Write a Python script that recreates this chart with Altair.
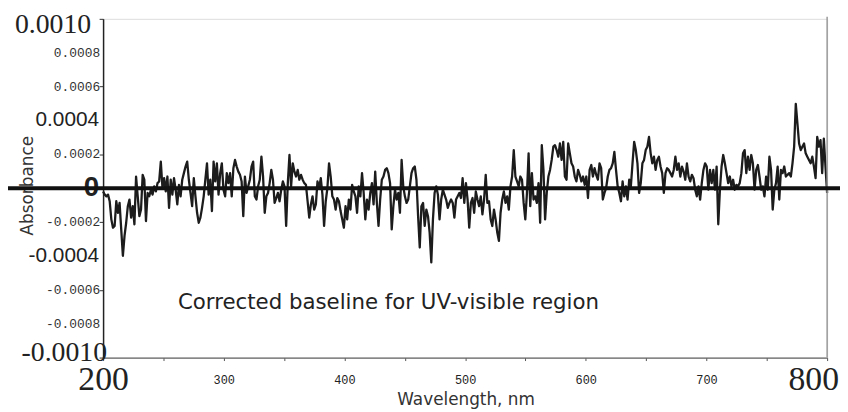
import altair as alt
import numpy as np
import pandas as pd

# Absorbance, in units of 1e-4, left to right (200 -> 800 nm)
abs_e4_200_318 = [
    -0.19, -0.38, -0.48, -0.38, -0.77, -1.84, -2.33, -2.23, -0.77, -1.45,
    -0.87, -2.43, -3.99, -2.82, -2.04, -1.06, -0.67, -1.74, -1.06, -2.13,
    0.69, -0.48, -1.65, -1.26, 0.79, 0.50, -1.94, -0.28, -0.48, -0.09,
    -0.38, 0.11, -0.19, 0.30, 0.40, 1.57, 0.01, 0.59, -0.19, 0.69,
    -1.16, 0.50, -0.38, 0.59, -0.09, -0.96, 0.20, -0.48, 0.50, 0.89,
    1.28, 1.57, 0.50, -0.28, -1.06, 0.59, -0.48, -1.45, -2.04, -1.74,
    -1.16, -0.48, 0.50, 1.47, -0.38, 0.50, -1.35, 1.57, 0.40, 1.47,
    -0.38, 0.89, 1.47, -0.09, -0.48, 0.89, 0.30, 0.89, -0.48, 1.18,
    1.67, 1.28, 0.98, 0.79, 0.40, -1.65, 0.69, -0.28,
]
abs_e4_320_441 = [
    0.11, 0.50, 1.28, 1.57, -0.48, -0.67, 0.11, 0.50, 1.86, 0.69,
    -1.45, -0.48, -0.28, 0.30, 1.08, 0.50, -0.87, -0.58, -0.28, -0.77,
    -0.09, 0.40, 0.11, -2.23, 0.30, 1.96, 0.11, 1.47, 0.98, 0.69,
    1.08, 0.50, 0.79, 0.50, 0.30, 0.20, -0.77, -1.74, -0.96, -0.48,
    -1.26, -0.96, 0.40, 0.01, 0.59, -0.38, -2.23, -0.77, 0.01, 1.47,
    0.69, -0.48, -0.67, -1.26, -0.58, -0.77, -1.35, -1.84, -2.33, -1.06,
    -1.84, -0.67, -1.26, 0.20, -0.19, -0.48, -1.45, 0.11, -0.48, 0.89,
    -0.28, -1.84, -0.67, -1.26, -0.28, 0.30, -0.96, 0.98, -0.87, -2.23,
    -0.67, 0.50, 0.69, 1.08, 1.18, 0.89, 0.30, -2.43, -1.06, -0.09,
]
abs_e4_442_564 = [
    -0.67, -0.28, -1.45, 1.67, 0.11, -0.48, -0.87, -0.67, 0.11, 0.89,
    1.18, 1.28, 0.50, -1.65, -3.50, -1.06, -0.87, -2.23, -1.26, -1.65,
    -2.62, -4.38, -1.84, -0.28, 0.11, -0.38, -1.84, -0.67, -0.09, -0.38,
    -0.67, -1.16, -0.87, -0.67, -0.87, -1.74, -0.67, -0.48, -0.28, -0.58,
    0.59, -0.87, 0.30, -0.67, -2.33, -0.87, -0.58, -1.45, -0.19, -0.67,
    -1.06, -0.48, -1.55, -0.67, 0.79, -0.87, -0.77, -1.84, -2.23, -1.26,
    -1.84, -2.62, -3.11, -1.45, -0.67, -0.19, -0.87, -0.48, -1.26, 0.11,
    0.69, 2.25, 0.69, 0.40, 0.11, 0.69, 0.50, -0.87, -1.84, -0.28,
    2.06, -1.06, 0.89, -0.67, -0.48, -0.87, 0.30, -2.04, 2.54, 1.08,
]
abs_e4_565_687 = [
    -1.84, -0.28, 0.69, 1.08, 1.67, 2.45, 2.54, 2.25, 1.86, 2.64,
    1.67, 2.74, 0.69, 0.50, 2.64, 2.06, 1.47, 1.28, 0.69, 0.40,
    1.08, 0.79, 0.40, 0.69, 0.20, 0.69, -0.58, 1.08, 1.37, 0.69,
    1.18, 0.79, 0.50, 1.47, 1.18, -0.67, -0.28, 0.01, 0.69, 1.08,
    1.18, 1.47, 2.15, 1.08, 0.11, -0.28, -0.77, 0.40, -0.48, 0.11,
    -0.67, 0.50, 0.11, 1.47, 2.74, 2.25, 1.47, -0.28, 0.30, 1.47,
    1.67, 2.25, 2.45, 3.03, 2.06, 1.47, 1.86, 1.08, 1.67, 1.86,
    1.28, 0.89, -0.28, 0.89, 1.18, 1.08, 0.89, 0.69, 1.08, 1.86,
    1.08, 1.47, 0.69, 1.28, 0.98, 0.50, 1.47, 0.69, 0.40, 0.79,
]
abs_e4_688_800 = [
    0.59, -0.09, -0.48, 0.11, -0.67, 0.30, 1.08, 1.47, 1.28, -0.09,
    1.08, 0.30, 1.08, -0.09, 1.28, -2.13, -0.09, 1.28, 1.96, 1.47,
    0.89, 0.30, 0.69, 0.11, 0.50, -0.09, 0.20, 0.11, 0.30, 0.89,
    2.06, 2.25, 0.89, 1.86, 1.08, 1.96, 1.47, -0.09, 1.08, 1.37,
    0.69, -0.09, 0.11, -0.48, 0.69, -0.09, 1.86, 1.08, -1.26, -0.09,
    0.30, 1.28, -0.67, 1.08, 0.89, 1.28, 0.69, 0.79, 0.89, 0.69,
    1.47, 2.45, 4.98, 3.81, 2.64, 2.25, 2.45, 2.64, 2.06, 1.86,
    1.67, 1.47, 1.86, 1.28, 0.59, 3.03, 2.45, 2.84, 0.89, 2.93,
    1.28, -0.28,
]

abs_e4 = (abs_e4_200_318 + abs_e4_320_441 + abs_e4_442_564
          + abs_e4_565_687 + abs_e4_688_800)
wavelength = np.linspace(200, 800, len(abs_e4))

x_ticks = [200, 250, 300, 350, 400, 450, 500, 550, 600, 650, 700, 750, 800]
y_ticks = [-0.0010, -0.0009, -0.0008, -0.0007, -0.0006, -0.0005, -0.0004,
           -0.0003, -0.0002, -0.0001, 0.0, 0.0001, 0.0002, 0.0003, 0.0004,
           0.0005, 0.0006, 0.0007, 0.0008, 0.0009, 0.0010]

# y tick labels, in the type styles the figure uses
y_top_label = ["0.0010"]
y_top_value = [0.0010]
y_bottom_label = ["-0.0010"]
y_bottom_value = [-0.0010]
y_mid_labels = ["0.0004", "-0.0004"]
y_mid_values = [0.0004, -0.0004]
y_zero_label = ["0"]
y_zero_value = [0.0]
y_small_labels = ["0.0008", "0.0006", "0.0002", "-0.0002", "-0.0006", "-0.0008"]
y_small_values = [0.0008, 0.0006, 0.0002, -0.0002, -0.0006, -0.0008]

annotation_text = ["Corrected baseline for UV-visible region"]
annotation_x = [262]
annotation_y = [-0.00068]

df = pd.DataFrame({"wavelength": wavelength,
                   "absorbance": np.array(abs_e4) * 1e-4})
annot = pd.DataFrame({"x": annotation_x, "y": annotation_y, "label": annotation_text})

W, H = 731, 342

xscale = alt.Scale(domain=[200, 800], nice=False, zero=False)
yscale = alt.Scale(domain=[-0.001, 0.001], nice=False, zero=False)

x_axis = alt.Axis(
    values=x_ticks,
    labelExpr="datum.value % 100 == 0 ? '' + datum.value : ''",
    labelFont=alt.expr("(datum.value == 200 || datum.value == 800) ? 'Liberation Serif' : 'Liberation Mono'"),
    labelFontSize=alt.expr("(datum.value == 200 || datum.value == 800) ? 34 : 12"),
    labelOffset=alt.expr("datum.value == 800 ? -14 : 0"),
    labelBaseline="middle",
    labelPadding=19,
    labelColor="#222",
    labelFlush=False,
    labelOverlap=False,
    labelBound=False,
    tickSize=3,
    tickColor="#555",
    domainColor="#666",
    domainWidth=1.2,
    grid=False,
    title="Wavelength, nm",
    titleFont="DejaVu Sans",
    titleFontSize=17,
    titleFontWeight="normal",
    titleColor="#333",
    titleX=366,
    titleY=42,
    titleAlign="center",
    titleBaseline="middle",
)

y_axis = alt.Axis(
    values=y_ticks,
    labels=False,
    tickSize=4,
    tickColor="#333",
    domainColor="#222",
    domainWidth=1.5,
    grid=False,
    title="Absorbance",
    titleFont="DejaVu Sans",
    titleFontSize=17,
    titleFontWeight="normal",
    titleColor="#333",
    titleX=-76,
    titleY=168,
    titleAlign="center",
    titleBaseline="middle",
)

line = alt.Chart(df).mark_line(color="#1c1c1c", strokeWidth=2.3, strokeJoin="round").encode(
    x=alt.X("wavelength:Q", scale=xscale, axis=x_axis),
    y=alt.Y("absorbance:Q", scale=yscale, axis=y_axis),
)


def ylabels(labels, values, font, size, xpix, dy=0, weight="normal", color="#222"):
    d = pd.DataFrame({"label": labels, "value": values})
    return alt.Chart(d).mark_text(
        align="right", baseline="middle", font=font, fontSize=size,
        fontWeight=weight, color=color, dy=dy,
    ).encode(
        x=alt.value(xpix),
        y=alt.Y("value:Q", scale=yscale),
        text="label:N",
    )


lab_top = ylabels(y_top_label, y_top_value, "Liberation Serif", 28, -12, dy=6)
lab_bottom = ylabels(y_bottom_label, y_bottom_value, "Liberation Serif", 28, 4, dy=-5)
lab_mid = ylabels(y_mid_labels, y_mid_values, "Liberation Sans", 21, -4)
lab_zero = ylabels(y_zero_label, y_zero_value, "Liberation Sans", 28, -4, weight="bold")
lab_small = ylabels(y_small_labels, y_small_values, "Liberation Mono", 13, -3, color="#333")

right_border = alt.Chart(annot).mark_rule(color="#9a9a9a", strokeWidth=1.5).encode(
    x=alt.datum(800, scale=xscale),
    y=alt.value(-2),
    y2=alt.value(H),
)

zero_line = alt.Chart(annot).mark_rule(color="#111", strokeWidth=4).encode(
    y=alt.datum(0, scale=yscale),
    x=alt.value(-96),
    x2=alt.value(W + 13),
)

text = alt.Chart(annot).mark_text(
    align="left", baseline="middle", font="DejaVu Sans", fontSize=21.5, color="#222"
).encode(
    x=alt.X("x:Q", scale=xscale),
    y=alt.Y("y:Q", scale=yscale),
    text="label:N",
)

chart = alt.layer(
    line, right_border, lab_top, lab_bottom, lab_mid, lab_small, lab_zero, zero_line, text
).properties(
    width=W,
    height=H,
    autosize=alt.AutoSizeParams(type="none"),
    padding={"left": 96, "top": 9, "right": 13, "bottom": 52},
).configure_view(stroke=None).configure(background="white")

chart.save("out.html", embed_options={"renderer": "svg", "actions": False})
